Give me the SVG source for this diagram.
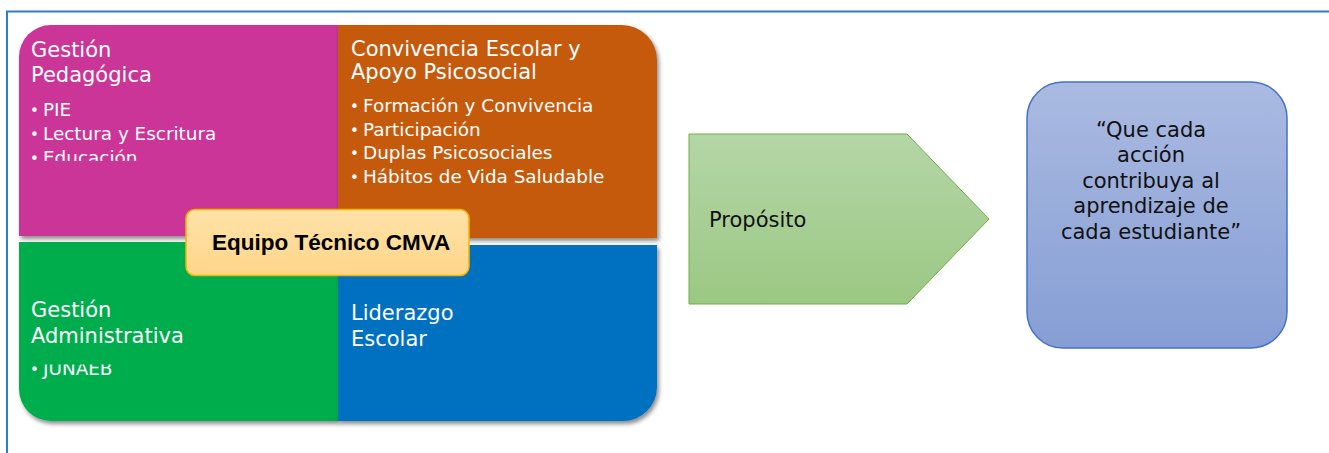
<svg xmlns="http://www.w3.org/2000/svg" width="1329" height="453" viewBox="0 0 1329 453">
<defs>
<style>
.h{font-family:"DejaVu Sans",Verdana,sans-serif;font-size:21px;fill:#fff}
.b{font-family:"DejaVu Sans",Verdana,sans-serif;font-size:18.4px;fill:#fff}
.d{font-family:"DejaVu Sans",sans-serif;font-size:15px;fill:#fff}
.q{font-family:"DejaVu Sans",Verdana,sans-serif;font-size:21px;fill:#111;text-anchor:middle}
.p{font-family:"DejaVu Sans",Verdana,sans-serif;font-size:21px;fill:#111}
.c{font-family:"Liberation Sans",Arial,sans-serif;font-size:22.5px;font-weight:bold;fill:#000}
</style>
<filter id="sh" x="-10%" y="-10%" width="120%" height="130%">
<feDropShadow dx="2" dy="3" stdDeviation="2" flood-color="#000" flood-opacity="0.45"/>
</filter>
<linearGradient id="gY" x1="0" y1="0" x2="0" y2="1"><stop offset="0" stop-color="#FFE2A8"/><stop offset="1" stop-color="#FFD68A"/></linearGradient>
<linearGradient id="gG" x1="0" y1="0" x2="0" y2="1"><stop offset="0" stop-color="#B5D6A7"/><stop offset="1" stop-color="#9BC883"/></linearGradient>
<linearGradient id="gB" x1="0" y1="0" x2="0" y2="1"><stop offset="0" stop-color="#AABAE1"/><stop offset="1" stop-color="#869ED5"/></linearGradient>
<clipPath id="clipP"><rect x="19" y="25" width="319" height="136"/></clipPath>
<clipPath id="clipG"><rect x="19" y="364.5" width="319" height="40"/></clipPath>
</defs>
<rect width="1329" height="453" fill="#fff"/>
<path d="M7,453 V11.5 H1329" fill="none" stroke="#2E7BCF" stroke-width="2"/>

<g id="gestion-pedagogica">
<path d="M19,57 A32,32 0 0 1 51,25 H338 V236 H19 Z" fill="#CB3497" filter="url(#sh)"/>
<text class="h" x="31" y="57">Gestión</text>
<text class="h" x="31" y="82">Pedagógica</text>
<g clip-path="url(#clipP)">
<text class="d" x="30" y="116">•</text><text class="b" x="43" y="116">PIE</text>
<text class="d" x="30" y="140">•</text><text class="b" x="43" y="140">Lectura y Escritura</text>
<text class="d" x="30" y="164">•</text><text class="b" x="43" y="164">Educación</text>
</g>
</g>

<g id="convivencia">
<path d="M338,25 H622 A35,35 0 0 1 657,60 V238 H338 Z" fill="#C55A11" filter="url(#sh)"/>
<text class="h" x="351" y="56">Convivencia Escolar y</text>
<text class="h" x="351" y="79">Apoyo Psicosocial</text>
<text class="d" x="350" y="112">•</text><text class="b" x="363" y="112">Formación y Convivencia</text>
<text class="d" x="350" y="136">•</text><text class="b" x="363" y="136">Participación</text>
<text class="d" x="350" y="159">•</text><text class="b" x="363" y="159">Duplas Psicosociales</text>
<text class="d" x="350" y="183">•</text><text class="b" x="363" y="183">Hábitos de Vida Saludable</text>
</g>

<g id="gestion-administrativa">
<path d="M19,242 H338 V421 H51 A32,32 0 0 1 19,389 Z" fill="#00AD4E" filter="url(#sh)"/>
<text class="h" x="31" y="317">Gestión</text>
<text class="h" x="31" y="343">Administrativa</text>
<g clip-path="url(#clipG)">
<text class="d" x="30" y="375">•</text><text class="b" x="43" y="375">JUNAEB</text>
</g>
</g>

<g id="liderazgo">
<path d="M338,245 H657 V387 A34,34 0 0 1 623,421 H338 Z" fill="#0070C0" filter="url(#sh)"/>
<text class="h" x="351" y="320">Liderazgo</text>
<text class="h" x="351" y="346">Escolar</text>
</g>

<g id="equipo">
<rect x="186" y="209.5" width="283" height="66" rx="9" fill="url(#gY)" stroke="#F2B600" stroke-width="1.5"/>
<text class="c" x="212" y="250">Equipo Técnico CMVA</text>
</g>

<g id="connectors"></g>

<g id="proposito">
<path d="M689,134 H907 L989,219 L907,304 H689 Z" fill="url(#gG)" stroke="#70AD47" stroke-width="1"/>
<text class="p" x="709" y="227">Propósito</text>
</g>

<g id="lema">
<rect x="1027" y="82" width="260" height="266" rx="36" fill="url(#gB)" stroke="#4472C4" stroke-width="1.5"/>
<text class="q" x="1151" y="137">“Que cada</text>
<text class="q" x="1151" y="162">acción</text>
<text class="q" x="1151" y="188">contribuya al</text>
<text class="q" x="1151" y="213">aprendizaje de</text>
<text class="q" x="1151" y="239">cada estudiante”</text>
</g>
</svg>
